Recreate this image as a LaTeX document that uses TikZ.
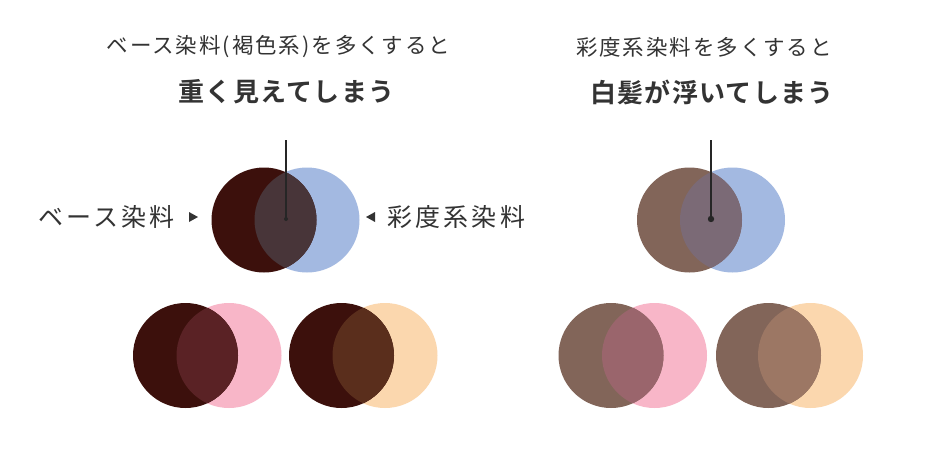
\documentclass[tikz,border=0pt]{standalone}
\usepackage{fontspec}
\setmainfont{Noto Sans CJK JP}[BoldFont={Noto Sans CJK JP Bold}]
\definecolor{txt}{HTML}{333333}
\definecolor{darkbase}{HTML}{3C100C}
\definecolor{brownbase}{HTML}{826559}
\definecolor{bluec}{HTML}{A3B9E1}
\definecolor{pinkc}{HTML}{F8B6C8}
\definecolor{peachc}{HTML}{FBD7AE}
\definecolor{ovDB}{HTML}{483539}
\definecolor{ovDP}{HTML}{5A2225}
\definecolor{ovDO}{HTML}{5A2E1C}
\definecolor{ovBB}{HTML}{7B6A76}
\definecolor{ovBP}{HTML}{9A656C}
\definecolor{ovBO}{HTML}{9C7764}
\newcommand{\myvenn}[7]{%
  \fill[#5] (#2,#3) circle (#7);
  \fill[#4] (#1,#3) circle (#7);
  \begin{scope}\clip (#1,#3) circle (#7);\fill[#6] (#2,#3) circle (#7);\end{scope}}
\begin{document}
\begin{tikzpicture}[x=1pt,y=-1pt,
  titlesmall/.style={text=txt,font=\fontsize{21.5}{24}\selectfont\addfontfeature{LetterSpace=9},inner sep=0pt},
  titlebig/.style={text=txt,font=\fontsize{26}{30}\selectfont\bfseries\addfontfeature{LetterSpace=5},inner sep=0pt},
  sidelabel/.style={text=txt,font=\fontsize{25}{28}\selectfont\addfontfeature{LetterSpace=13},inner sep=0pt},
  pointer/.style={draw=black!85,line width=1.2pt},
  tri/.style={fill=txt}]
\useasboundingbox[fill=white] (0,0) rectangle (934,452);
% titles
\node[titlesmall] (t1) at (278.5,47) {ベース染料(褐色系)を多くすると};
\node[titlebig] (t2) at (286.5,92) {重く見えてしまう};
\node[titlesmall] (t3) at (704,47) {彩度系染料を多くすると};
\node[titlebig] (t4) at (712,92) {白髪が浮いてしまう};
% left main venn
\myvenn{264}{307}{220}{darkbase}{bluec}{ovDB}{52.5}
\myvenn{185.5}{229}{355.5}{darkbase}{pinkc}{ovDP}{52.5}
\myvenn{341.5}{385}{355.5}{darkbase}{peachc}{ovDO}{52.5}
% right venn
\myvenn{689.5}{732.5}{220}{brownbase}{bluec}{ovBB}{52.5}
\myvenn{611}{654.5}{355.5}{brownbase}{pinkc}{ovBP}{52.5}
\myvenn{768.5}{810.5}{355.5}{brownbase}{peachc}{ovBO}{52.5}
% pointers
\coordinate (p1top) at (286,140);
\coordinate (p1dot) at (286,219);
\draw[pointer] (p1top) -- (p1dot);
\fill[black!85] (p1dot) circle (2);
\coordinate (p2top) at (711,140);
\coordinate (p2dot) at (711,219);
\draw[pointer] (p2top) -- (p2dot);
\fill[black!85] (p2dot) circle (3.2);
% side labels
\node[sidelabel,anchor=west] (lbase) at (38,217) {ベース染料};
\node[sidelabel,anchor=west] (lsat) at (387,217) {彩度系染料};
\fill[tri] (189,212) -- (198,217) -- (189,222) -- cycle;
\fill[tri] (375,212) -- (366,217) -- (375,222) -- cycle;
\end{tikzpicture}
\end{document}
